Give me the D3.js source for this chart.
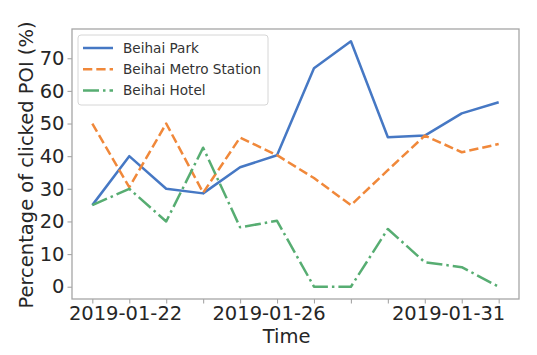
<!DOCTYPE html>
<html>
<head>
<meta charset="utf-8">
<script src="https://cdn.jsdelivr.net/npm/d3@7"></script>
<style>
  html, body { margin: 0; padding: 0; background: #fff; }
  svg { display: block; font-family: "DejaVu Sans", sans-serif; }
</style>
</head>
<body>
<svg id="chart" width="537" height="355"></svg>
<script>
// ---- data ----
const dates = ["2019-01-21","2019-01-22","2019-01-23","2019-01-24","2019-01-25","2019-01-26",
               "2019-01-27","2019-01-28","2019-01-29","2019-01-30","2019-01-31","2019-02-01"];
const seriesNames = ["Beihai Park", "Beihai Metro Station", "Beihai Hotel"];
const beihaiPark   = [25, 40, 30, 28.6, 36.6, 40.3, 66.9, 75.2, 45.8, 46.3, 53.1, 56.5];
const beihaiMetro  = [50, 30.5, 50, 28.8, 45.7, 40.3, 33.3, 25, 35.7, 46.3, 41.2, 43.7];
const beihaiHotel  = [25, 30, 20, 42.6, 18.2, 20.2, 0, 0, 17.7, 7.5, 6, 0];
const xLabelDates  = ["2019-01-22", "2019-01-26", "2019-01-31"];
const yTicks       = [0, 10, 20, 30, 40, 50, 60, 70];
const xTitle = "Time";
const yTitle = "Percentage of clicked POI (%)";

// ---- setup ----
const parse = d3.timeParse("%Y-%m-%d");
const fmt = d3.timeFormat("%Y-%m-%d");
const xs = dates.map(parse);
const DAY = 864e5;
const pad = (xs[xs.length-1] - xs[0]) * 0.05;
const xDomain = [new Date(+xs[0] - pad), new Date(+xs[xs.length-1] + pad)];

const plot = { left: 72, right: 519, top: 29, bottom: 299 };
const x = d3.scaleTime().domain(xDomain).range([plot.left, plot.right]);
const xLab = d3.scaleTime().domain(xDomain).range([69.4, 503.7]);
const allVals = beihaiPark.concat(beihaiMetro, beihaiHotel);
const yMin = d3.min(allVals), yMax = d3.max(allVals);
const yPad = (yMax - yMin) * 0.05;
const y = d3.scaleLinear().domain([yMin - yPad, yMax + yPad]).range([plot.bottom, plot.top]);

const svg = d3.select("#chart");
svg.append("rect").attr("width", 537).attr("height", 355).attr("fill", "#fff");

const frameColor = "#a6a6a6";
const textColor = "#262626";
const fs = 19.5;

// lines
const series = [
  { name: seriesNames[0], values: beihaiPark,  color: "#4678c4", dash: null },
  { name: seriesNames[1], values: beihaiMetro, color: "#f0883a", dash: "9.3,4" },
  { name: seriesNames[2], values: beihaiHotel, color: "#57ad72", dash: "16,4,2.5,4" }
];
const line = d3.line().x((d, i) => x(xs[i])).y(d => y(d));
series.forEach(s => {
  svg.append("path")
    .datum(s.values)
    .attr("d", line)
    .attr("fill", "none")
    .attr("stroke", s.color)
    .attr("stroke-width", 2.5)
    .attr("stroke-linejoin", "round")
    .attr("stroke-dasharray", s.dash);
});

// frame
svg.append("rect")
  .attr("x", plot.left).attr("y", plot.top)
  .attr("width", plot.right - plot.left).attr("height", plot.bottom - plot.top)
  .attr("fill", "none").attr("stroke", frameColor).attr("stroke-width", 1.3);

// x ticks (every day)
const xAxis = svg.append("g").attr("transform", `translate(0,${plot.bottom})`)
  .call(d3.axisBottom(x).tickValues(xs).tickSize(4.5).tickFormat(""));
xAxis.select(".domain").remove();
xAxis.selectAll("line").attr("stroke", frameColor).attr("stroke-width", 1.1);

// x labels
const xLabAxis = svg.append("g").attr("transform", `translate(0,${plot.bottom})`)
  .call(d3.axisBottom(xLab).tickValues(xLabelDates.map(parse)).tickSize(0).tickPadding(7).tickFormat(fmt));
xLabAxis.select(".domain").remove();
xLabAxis.selectAll("text").attr("font-size", fs).attr("fill", textColor).attr("font-family", "DejaVu Sans");

// y axis
const yAxis = svg.append("g").attr("transform", `translate(${plot.left},0)`)
  .call(d3.axisLeft(y).tickValues(yTicks).tickSize(4.5).tickPadding(3));
yAxis.select(".domain").remove();
yAxis.selectAll("line").attr("stroke", frameColor).attr("stroke-width", 1.1);
yAxis.selectAll("text").attr("font-size", fs).attr("fill", textColor).attr("font-family", "DejaVu Sans");

// titles
svg.append("text")
  .attr("x", (xLab.range()[0] + xLab.range()[1]) / 2).attr("y", 343)
  .attr("text-anchor", "middle").attr("font-size", fs).attr("fill", textColor)
  .text(xTitle);
svg.append("text")
  .attr("transform", `translate(33,${(plot.top + plot.bottom) / 2 + 1}) rotate(-90)`)
  .attr("text-anchor", "middle").attr("font-size", fs).attr("fill", textColor)
  .text(yTitle);

// legend
const lg = svg.append("g");
lg.append("rect").attr("x", 78).attr("y", 35).attr("width", 190).attr("height", 70)
  .attr("rx", 3).attr("fill", "#fff").attr("fill-opacity", 0.85)
  .attr("stroke", "#d6d6d6").attr("stroke-width", 1);
const rowY = d3.scalePoint().domain(seriesNames).range([48, 90.5]);
series.forEach(s => {
  const yy = rowY(s.name);
  lg.append("line").attr("x1", 83).attr("x2", 113).attr("y1", yy).attr("y2", yy)
    .attr("stroke", s.color).attr("stroke-width", 2.5).attr("stroke-dasharray", s.dash);
  lg.append("text").attr("x", 123).attr("y", yy).attr("dy", "0.35em")
    .attr("font-size", 13.6).attr("fill", "#333").text(s.name);
});
</script>
</body>
</html>
